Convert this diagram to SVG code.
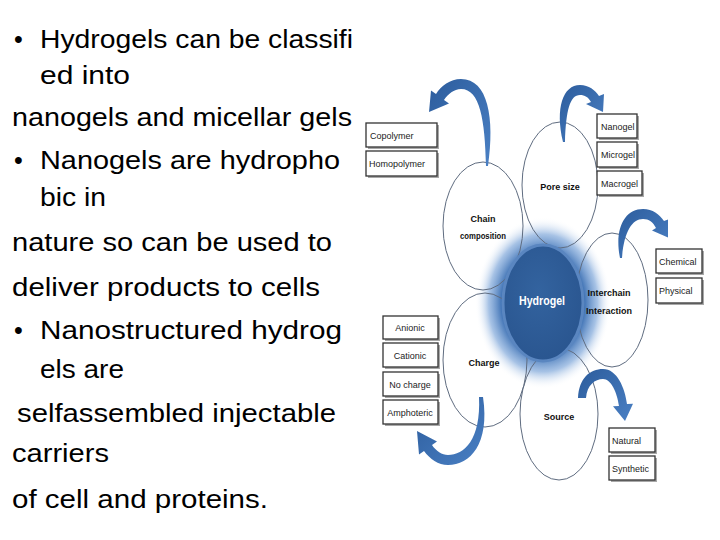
<svg xmlns="http://www.w3.org/2000/svg" width="720" height="540" viewBox="0 0 720 540">
<defs>
<radialGradient id="glow" cx="0.5" cy="0.5" r="0.5">
<stop offset="0" stop-color="#2f5e98"/>
<stop offset="0.6" stop-color="#3b6fb2"/>
<stop offset="0.8" stop-color="#6c9ad4" stop-opacity="0.6"/>
<stop offset="1" stop-color="#ffffff" stop-opacity="0"/>
</radialGradient>
<radialGradient id="core" cx="0.45" cy="0.4" r="0.6">
<stop offset="0" stop-color="#33639f"/>
<stop offset="1" stop-color="#2a5690"/>
</radialGradient>
<linearGradient id="arr" x1="0" y1="0" x2="1" y2="1">
<stop offset="0" stop-color="#2c5c9c"/>
<stop offset="1" stop-color="#4a80c4"/>
</linearGradient>
</defs>
<style>
.body{font-family:"Liberation Sans",Arial,sans-serif;font-size:25px;fill:#000}
.ell{fill:none;stroke:#5f6c80;stroke-width:1}
.lbl{font-family:"Liberation Sans",Arial,sans-serif;font-size:9px;font-weight:bold;fill:#111;text-anchor:middle}
.shadow{fill:#a8a8a8}
.box{fill:#fff;stroke:#333;stroke-width:1.3}
.bt{font-family:"Liberation Sans",Arial,sans-serif;font-size:9px;fill:#222}
.arrow{fill:url(#arr)}
</style>

<g id="text">
<text class="body" x="14" y="48">•</text>
<text class="body" x="40" y="48" textLength="313" lengthAdjust="spacingAndGlyphs">Hydrogels can be classifi</text>
<text class="body" x="40" y="84" textLength="90" lengthAdjust="spacingAndGlyphs">ed into</text>
<text class="body" x="12" y="126" textLength="340" lengthAdjust="spacingAndGlyphs">nanogels and micellar gels</text>
<text class="body" x="14" y="169">•</text>
<text class="body" x="40" y="169" textLength="300" lengthAdjust="spacingAndGlyphs">Nanogels are hydropho</text>
<text class="body" x="40" y="206" textLength="66" lengthAdjust="spacingAndGlyphs">bic in</text>
<text class="body" x="12" y="251" textLength="320" lengthAdjust="spacingAndGlyphs">nature so can be used to</text>
<text class="body" x="12" y="296" textLength="308" lengthAdjust="spacingAndGlyphs">deliver products to cells</text>
<text class="body" x="14" y="339">•</text>
<text class="body" x="40" y="339" textLength="302" lengthAdjust="spacingAndGlyphs">Nanostructured hydrog</text>
<text class="body" x="40" y="378" textLength="84" lengthAdjust="spacingAndGlyphs">els are</text>
<text class="body" x="17" y="422" textLength="319" lengthAdjust="spacingAndGlyphs">selfassembled injectable</text>
<text class="body" x="12" y="462" textLength="97" lengthAdjust="spacingAndGlyphs">carriers</text>
<text class="body" x="12" y="508" textLength="256" lengthAdjust="spacingAndGlyphs">of cell and proteins.</text>
</g>

<g id="glow-bg">
<ellipse cx="543" cy="303" rx="68" ry="86" fill="url(#glow)"/>
</g>

<g id="chain-composition">
<ellipse class="ell" cx="483" cy="226" rx="40" ry="64"/>
<text class="lbl" x="483" y="222">Chain</text>
<text class="lbl" x="483" y="239" textLength="46" lengthAdjust="spacingAndGlyphs">composition</text>
</g>
<g id="pore-size">
<ellipse class="ell" cx="560" cy="185" rx="38" ry="63"/>
<text class="lbl" x="560" y="190">Pore size</text>
</g>
<g id="interchain">
<ellipse class="ell" cx="612" cy="300" rx="36" ry="67"/>
<text class="lbl" x="609" y="296">Interchain</text>
<text class="lbl" x="609" y="314">Interaction</text>
</g>
<g id="charge">
<ellipse class="ell" cx="485" cy="360" rx="42" ry="67"/>
<text class="lbl" x="484" y="366">Charge</text>
</g>
<g id="source">
<ellipse class="ell" cx="559" cy="414" rx="39" ry="66"/>
<text class="lbl" x="559" y="420">Source</text>
</g>

<g id="hydrogel">
<ellipse cx="543" cy="303" rx="40" ry="58" fill="url(#core)" stroke="#5a86c0" stroke-width="3"/>
<text x="542" y="305" font-family="Liberation Sans, Arial, sans-serif" font-size="12" font-weight="bold" fill="#ffffff" text-anchor="middle" textLength="46" lengthAdjust="spacingAndGlyphs">Hydrogel</text>
</g>

<g id="connectors">
<path class="arrow" d="M488,166 C495,118 488,79 461,79 C450,79 441,86 436,94 L431,90.6 L429,112 L449,103.4 L444,100 C448,94 454,89 461,89 C480,89 485,120 486,166 Z"/>
<path class="arrow" d="M563,142 C555,108 563,85 580,85 C589,85 595,90 599,96 L604,94 L603,112 L586,104 L591,102 C588,97 585,95 580,95 C570,95 566,110 565,142 Z"/>
<path class="arrow" d="M620,258 C614,228 625,209 643,209 C653,209 659,214 664,221 L668,219.5 L668,237.5 L652,230.5 L656,228 C653,222 649,219 643,219 C632,219 624,232 622,258 Z"/>
<path class="arrow" d="M483,397 C490,444 470,465 448,465 C438,465 430,459 424,451 L419,454.4 L417,431 L437,441.6 L432,445 C436,451 442,455 448,455 C464,455 481,440 479,397 Z"/>
<path class="arrow" d="M578,398 C579,378 590,369 603,369 C617,369 625,388 627,404 L633,403.7 L625,421 L613,406.3 L619,406 C617,392 611,379 603,379 C595,379 587,385 586,398 Z"/>
</g>

<g id="box-copolymer">
<rect class="shadow" x="368" y="125" width="71" height="24"/>
<rect class="box" x="366" y="123" width="71" height="24"/>
<text class="bt" x="370" y="139">Copolymer</text>
</g>
<g id="box-homopolymer">
<rect class="shadow" x="368" y="153" width="71" height="25"/>
<rect class="box" x="366" y="151" width="71" height="25"/>
<text class="bt" x="369" y="167">Homopolymer</text>
</g>
<g id="box-nanogel">
<rect class="shadow" x="599" y="116" width="40" height="24"/>
<rect class="box" x="597" y="114" width="40" height="24"/>
<text class="bt" x="601" y="130">Nanogel</text>
</g>
<g id="box-microgel">
<rect class="shadow" x="599" y="144" width="40" height="25"/>
<rect class="box" x="597" y="142" width="40" height="25"/>
<text class="bt" x="601" y="158">Microgel</text>
</g>
<g id="box-macrogel">
<rect class="shadow" x="599" y="173" width="45" height="24"/>
<rect class="box" x="597" y="171" width="45" height="24"/>
<text class="bt" x="601" y="187">Macrogel</text>
</g>
<g id="box-chemical">
<rect class="shadow" x="658" y="251" width="46" height="24"/>
<rect class="box" x="656" y="249" width="46" height="24"/>
<text class="bt" x="659" y="265">Chemical</text>
</g>
<g id="box-physical">
<rect class="shadow" x="658" y="280" width="46" height="25"/>
<rect class="box" x="656" y="278" width="46" height="25"/>
<text class="bt" x="659" y="294">Physical</text>
</g>
<g id="box-anionic">
<rect class="shadow" x="385" y="318" width="55" height="23"/>
<rect class="box" x="383" y="316" width="55" height="23"/>
<text class="bt" x="410" y="331" text-anchor="middle">Anionic</text>
</g>
<g id="box-cationic">
<rect class="shadow" x="385" y="345" width="55" height="24"/>
<rect class="box" x="383" y="343" width="55" height="24"/>
<text class="bt" x="410" y="359" text-anchor="middle">Cationic</text>
</g>
<g id="box-nocharge">
<rect class="shadow" x="385" y="374" width="55" height="24"/>
<rect class="box" x="383" y="372" width="55" height="24"/>
<text class="bt" x="410" y="388" text-anchor="middle">No charge</text>
</g>
<g id="box-amphoteric">
<rect class="shadow" x="385" y="402" width="55" height="24"/>
<rect class="box" x="383" y="400" width="55" height="24"/>
<text class="bt" x="410" y="416" text-anchor="middle">Amphoteric</text>
</g>
<g id="box-natural">
<rect class="shadow" x="611" y="430" width="46" height="24"/>
<rect class="box" x="609" y="428" width="46" height="24"/>
<text class="bt" x="612" y="444">Natural</text>
</g>
<g id="box-synthetic">
<rect class="shadow" x="611" y="458" width="46" height="24"/>
<rect class="box" x="609" y="456" width="46" height="24"/>
<text class="bt" x="612" y="472">Synthetic</text>
</g>
</svg>
